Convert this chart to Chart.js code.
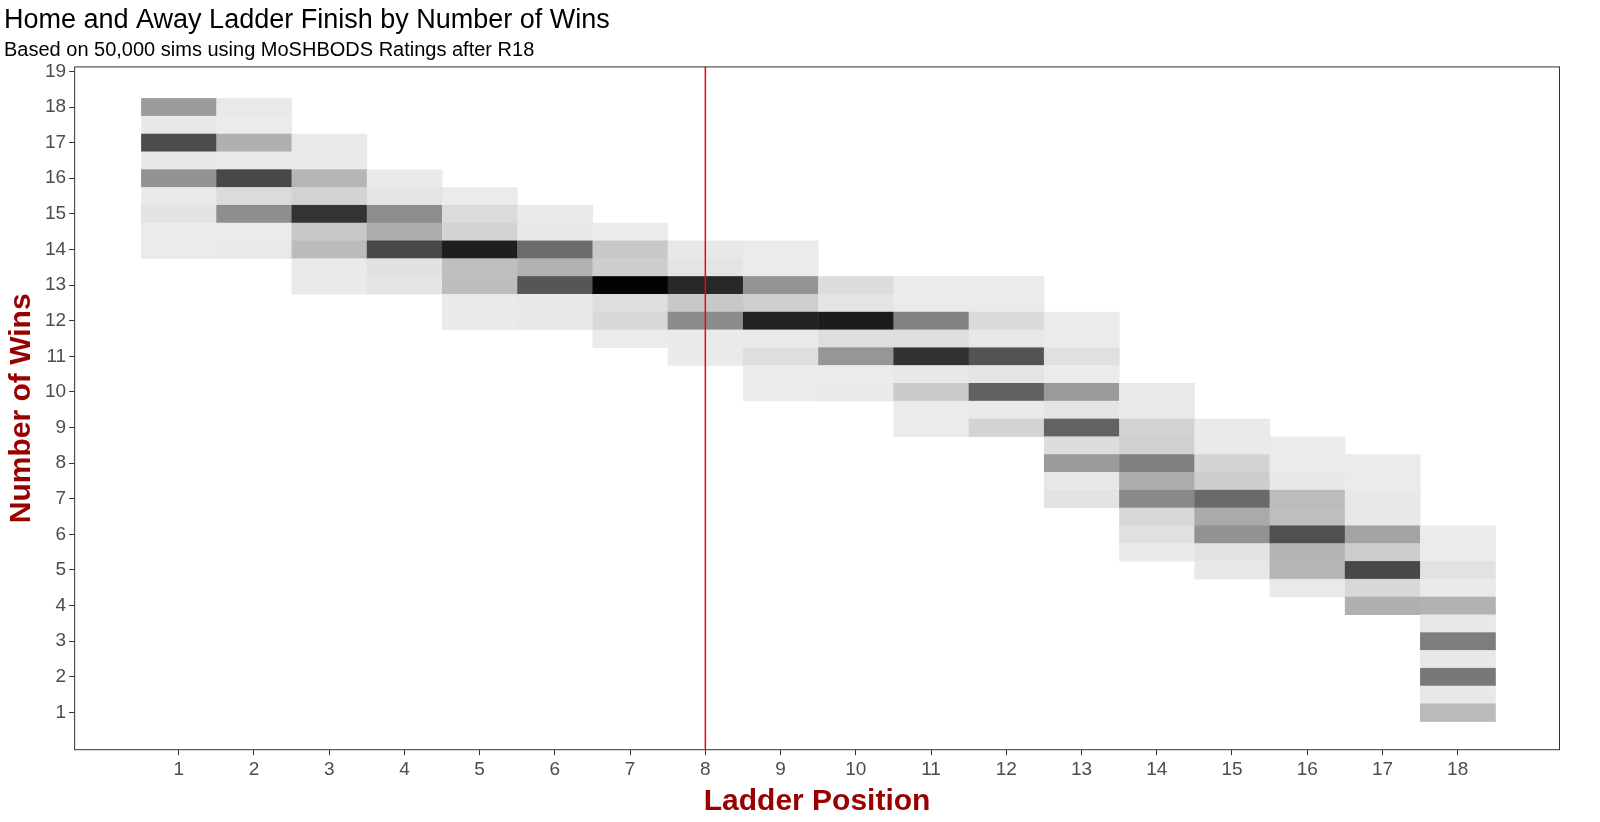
<!DOCTYPE html>
<html><head><meta charset="utf-8">
<script src="https://cdn.jsdelivr.net/npm/chart.js@4"></script>
<style>html,body{margin:0;padding:0;background:#fff}#wrap{width:1600px;height:822px}</style>
</head><body><div id="wrap"><canvas id="c"></canvas></div>
<script>
// Ladder positions and, for each, the top win total (wins step down by 0.5)
const positions = [1,2,3,4,5,6,7,8,9,10,11,12,13,14,15,16,17,18];
const topWins = [18,18,17,16,15.5,15,14.5,14,14,13,13,13,12,10,9,8.5,8,6];
// relative frequency (0 = rare, 235 = most common) per cell, from topWins downward
const freq1 = [80,3,158,3,88,2,8,0,0];
const freq2 = [2,0,59,1,163,16,93,0,2];
const freq3 = [2,1,54,25,184,35,48,1,1];
const freq4 = [1,7,93,63,163,10,6];
const freq5 = [0,16,24,205,44,46,1,1];
const freq6 = [2,3,127,57,149,3,3];
const freq7 = [0,35,30,232,13,19,0];
const freq8 = [3,7,195,35,95,1,1];
const freq9 = [0,0,87,29,201,2,13,0,0];
const freq10 = [14,7,208,13,85,0,1];
const freq11 = [0,0,104,13,185,3,33,0,0];
const freq12 = [0,0,17,3,152,7,138,2,23];
const freq13 = [0,0,11,0,81,7,137,14,80,3,8];
const freq14 = [1,1,25,27,107,63,98,20,11,1];
const freq15 = [1,1,23,30,129,65,89,8,3];
const freq16 = [0,0,3,47,45,155,55,54,2];
const freq17 = [0,0,3,3,72,30,163,19,59];
const freq18 = [0,0,9,2,57,3,110,3,115,3,49];
const freqs = [freq1,freq2,freq3,freq4,freq5,freq6,freq7,freq8,freq9,freq10,freq11,freq12,freq13,freq14,freq15,freq16,freq17,freq18];
const yTicks = [1,2,3,4,5,6,7,8,9,10,11,12,13,14,15,16,17,18,19];
const cutLine = 8;

const cells = [];
positions.forEach((p,i)=>freqs[i].forEach((f,j)=>cells.push({x:p,y:topWins[i]-0.5*j,f})));

const FONT = "'Liberation Sans', Arial, sans-serif";
const heatPlugin = {
  id:'heat',
  beforeDatasetsDraw(chart){
    const {ctx, scales:{x,y}, chartArea:a} = chart;
    ctx.save();
    ctx.beginPath(); ctx.rect(a.left,a.top,a.right-a.left,a.bottom-a.top); ctx.clip();
    cells.forEach(c=>{
      const g = Math.round(235 - c.f);
      ctx.fillStyle = `rgb(${g},${g},${g})`;
      const x0 = x.getPixelForValue(c.x-0.5), x1 = x.getPixelForValue(c.x+0.5);
      const y0 = y.getPixelForValue(c.y+0.25), y1 = y.getPixelForValue(c.y-0.25);
      ctx.fillRect(x0, y0, x1-x0+0.5, y1-y0+0.5);
    });
    const lx = x.getPixelForValue(cutLine);
    ctx.strokeStyle = '#ff0000'; ctx.lineWidth = 1.5;
    ctx.beginPath(); ctx.moveTo(lx,a.top); ctx.lineTo(lx,a.bottom); ctx.stroke();
    ctx.restore();
  },
  afterDraw(chart){
    const {ctx, chartArea:a} = chart;
    ctx.save(); ctx.strokeStyle='#333'; ctx.lineWidth=1;
    ctx.strokeRect(a.left+0.5,a.top+0.5,a.right-a.left-1,a.bottom-a.top-1);
    ctx.restore();
  }
};

const axisCommon = {
  grid:{display:true, drawOnChartArea:false, drawTicks:true, tickLength:5, color:'#333'},
  border:{display:false},
  ticks:{color:'#4d4d4d', font:{family:FONT, size:19}, autoSkip:false, maxRotation:0},
};

new Chart(document.getElementById('c'),{
  type:'scatter',
  data:{datasets:[{data:[], pointRadius:0}]},
  options:{
    responsive:true, maintainAspectRatio:false, animation:false,
    layout:{padding:{left:4,right:40,top:0,bottom:2}},
    plugins:{
      legend:{display:false}, tooltip:{enabled:false},
      title:{display:true, text:'Home and Away Ladder Finish by Number of Wins', align:'start', color:'#000',
        font:{family:FONT, size:27, weight:'normal'}, padding:{top:4,bottom:2}},
      subtitle:{display:true, text:'Based on 50,000 sims using MoSHBODS Ratings after R18', align:'start', color:'#000',
        font:{family:FONT, size:20, weight:'normal'}, padding:{top:0,bottom:4}}
    },
    scales:{
      x:{...axisCommon, type:'linear', min:-0.39, max:19.36,
        afterBuildTicks(s){ s.ticks = positions.map(v=>({value:v})); },
        title:{display:true, text:'Ladder Position', color:'#990000', font:{family:FONT,size:30,weight:'bold'}, padding:{top:0,bottom:0}}},
      y:{...axisCommon, type:'linear', min:-0.06, max:19.14,
        afterBuildTicks(s){ s.ticks = yTicks.map(v=>({value:v})); },
        title:{display:true, text:'Number of Wins', color:'#990000', font:{family:FONT,size:30,weight:'bold'}, padding:{top:0,bottom:2}}}
    }
  },
  plugins:[heatPlugin]
});
</script></body></html>
